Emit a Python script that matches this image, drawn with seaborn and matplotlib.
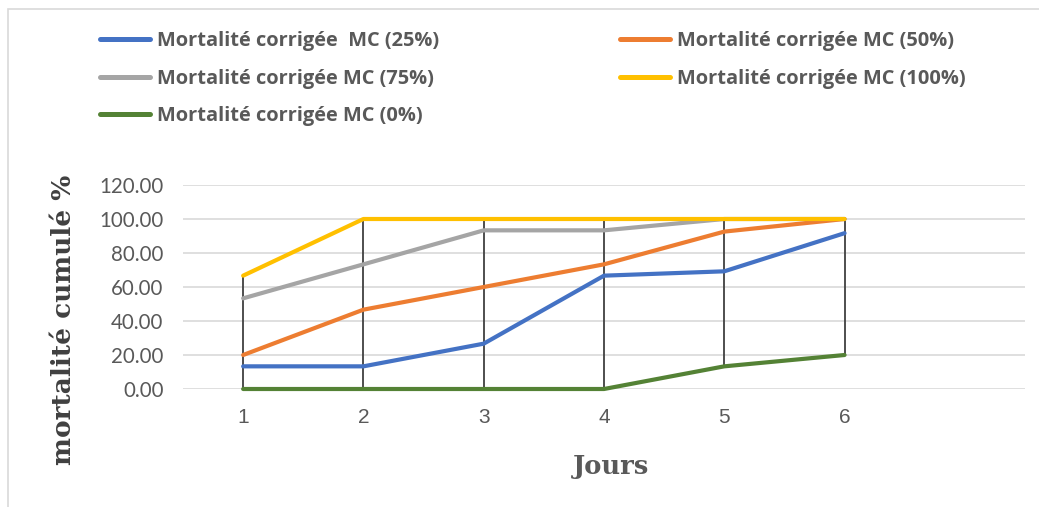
import matplotlib
matplotlib.use("Agg")
import matplotlib.pyplot as plt
import seaborn as sns
import pandas as pd
import numpy as np
from matplotlib.patches import Rectangle
from matplotlib.lines import Line2D

jours = [1, 2, 3, 4, 5, 6]
mc25 = [13.33, 13.33, 26.67, 66.67, 69.23, 91.67]
mc50 = [20.00, 46.67, 60.00, 73.33, 92.59, 100.00]
mc75 = [53.33, 73.33, 93.33, 93.33, 100.00, 100.00]
mc100 = [66.67, 100.00, 100.00, 100.00, 100.00, 100.00]
mc0 = [0.00, 0.00, 0.00, 0.00, 13.33, 20.00]

names = ["Mortalité corrigée  MC (25%)", "Mortalité corrigée MC (50%)",
         "Mortalité corrigée MC (75%)", "Mortalité corrigée MC (100%)",
         "Mortalité corrigée MC (0%)"]
series = [mc25, mc50, mc75, mc100, mc0]
colors = ["#4472C4", "#ED7D31", "#A5A5A5", "#FFC000", "#548235"]
yticks = [0, 20, 40, 60, 80, 100, 120]

rows = []
for n, s in zip(names, series):
    for j, v in zip(jours, s):
        rows.append({"Jours": j, "val": v, "serie": n})
df = pd.DataFrame(rows)

sns.set_theme(style="white")
plt.rcParams['font.family'] = ['Lato', 'DejaVu Sans']

fig = plt.figure(figsize=(10.39, 5.07), dpi=100)
ax = fig.add_axes([183/1039, 1-389/507, (1025-183)/1039, (389-185)/507])

# high-low lines
lo = df.groupby("Jours")["val"].min()
hi = df.groupby("Jours")["val"].max()
ax.vlines(lo.index, lo.values, hi.values, color="#404040", lw=1.3, zorder=2, clip_on=False)

sns.lineplot(data=df, x="Jours", y="val", hue="serie", hue_order=names,
             palette=colors, linewidth=3.0, ax=ax, legend=False, zorder=3)
for ln in ax.lines:
    ln.set_clip_on(False)

ax.set_xlim(0.5, 7.5)
ax.set_ylim(0, 120)
ax.set_yticks(yticks)
ax.set_yticklabels([f"{v:.2f}" for v in yticks])
ax.set_xticks(jours)
ax.set_xticklabels([str(j) for j in jours])
ax.grid(axis="y", color="#d9d9d9", lw=1.2)
ax.grid(axis="x", visible=False)
for sp in ax.spines.values():
    sp.set_visible(False)
ax.tick_params(axis="y", length=0, pad=14, labelsize=14.8, labelcolor="#595959")
ax.tick_params(axis="x", length=0, pad=14, labelsize=15, labelcolor="#595959")
for t in ax.get_xticklabels():
    t.set_family(["Liberation Sans Narrow", "Liberation Sans", "DejaVu Sans"])
ax.set_xlabel("Jours", family=["DejaVu Serif"], fontweight="bold",
              fontsize=18.5, color="#595959")
ax.xaxis.set_label_coords(0.508, -0.32)
ax.set_ylabel("mortalité cumulé %", family=["DejaVu Serif"],
              fontweight="bold", fontsize=19, color="#404040")
ax.yaxis.set_label_coords(-0.127, 0.34)

# chart border
fig.patches.append(Rectangle((8/1039, -0.05), 1.1, 1-9/507+0.05, transform=fig.transFigure,
                             fill=False, edgecolor="#d9d9d9", lw=1.2))

def handle(c):
    return Line2D([0], [0], color=c, lw=3.6)

idx1 = [0, 2, 4]
idx2 = [1, 3]
common = dict(frameon=False, handlelength=2.5, handletextpad=0.35, labelspacing=0.88,
              prop={"family": ["Open Sans", "DejaVu Sans"], "weight": "bold", "size": 14.4},
              labelcolor="#595959", borderaxespad=0, borderpad=0)
fig.legend([handle(colors[i]) for i in idx1], [names[i] for i in idx1],
           loc="upper left", bbox_to_anchor=(100/1039, 1-31/507), **common)
fig.legend([handle(colors[i]) for i in idx2], [names[i] for i in idx2],
           loc="upper left", bbox_to_anchor=(620/1039, 1-31/507), **common)

fig.savefig("out.png", dpi=100)
